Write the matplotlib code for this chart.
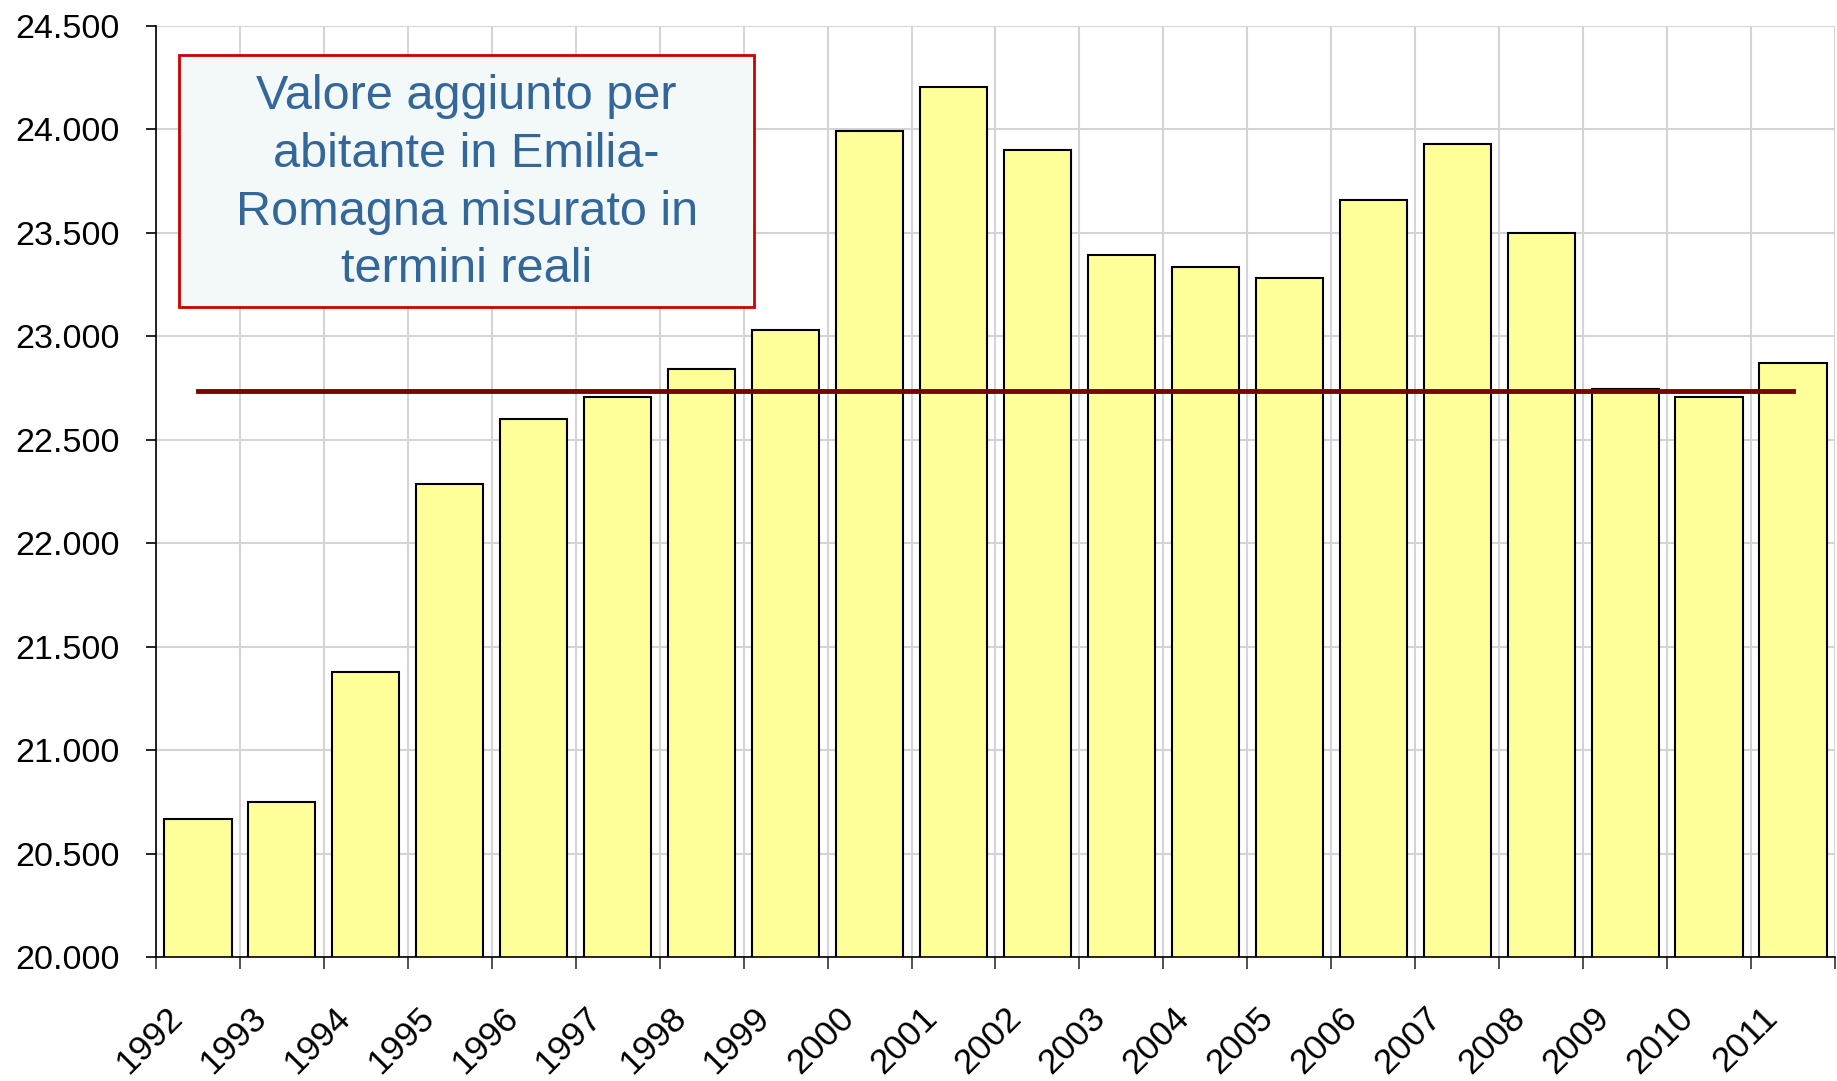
import numpy as np
import matplotlib
matplotlib.use("Agg")
import matplotlib.pyplot as plt
from matplotlib.ticker import FuncFormatter, FixedLocator
from matplotlib.transforms import ScaledTranslation

# valore aggiunto per abitante, Emilia-Romagna (valori reali)
anni = [str(a) for a in range(1992, 2012)]
valori = [20668, 20747, 21376, 22287, 22598, 22706, 22842, 23029, 23991, 24206,
          23900, 23391, 23334, 23283, 23657, 23929, 23498, 22746, 22706, 22870]
media = 22734
titolo = "Valore aggiunto per\nabitante in Emilia-\nRomagna misurato in\ntermini reali"

plt.rcParams['font.family'] = ['Liberation Sans', 'DejaVu Sans']

fig = plt.figure(figsize=(18.37, 10.81), dpi=100)
ax = fig.add_axes([0.0849, 0.1147, 0.9140, 0.8613])

x = np.arange(len(anni))
ax.bar(x, valori, width=0.8, color='#ffff99', edgecolor='black', linewidth=1.5, zorder=2)
ax.plot([x[0], x[-1]], [media, media], color='#800000', linewidth=3.5, zorder=3)

ax.set_xlim(-0.5, len(anni) - 0.5)
ax.set_ylim(20000, 24500)
ax.set_yticks(np.arange(20000, 24501, 500))
ax.yaxis.set_major_formatter(FuncFormatter(lambda v, p: f"{int(v):,}".replace(",", ".")))

ax.set_xticks(x)
ax.set_xticklabels(anni, rotation=45, ha='right', va='center', rotation_mode='anchor')
ax.xaxis.set_minor_locator(FixedLocator(np.arange(-0.5, len(anni), 1.0)))
ax.tick_params(axis='x', which='major', length=0, pad=40, labelsize=25.5)
ax.tick_params(axis='x', which='minor', length=8.6, width=1.2, color='#333333', direction='out')
ax.tick_params(axis='y', length=7, width=1.2, pad=19, labelsize=24.5, direction='out')
off = ScaledTranslation(-0.21, 0, fig.dpi_scale_trans)
for lab in ax.get_xticklabels():
    lab.set_transform(lab.get_transform() + off)

ax.grid(True, which='minor', axis='x', color='#d4d4d4', linewidth=1.5, zorder=0)
ax.grid(True, which='major', axis='y', color='#d4d4d4', linewidth=1.5, zorder=0)
ax.set_axisbelow(True)
for s in ['top', 'right']:
    ax.spines[s].set_visible(False)
ax.spines['left'].set_linewidth(1.2)
ax.spines['bottom'].set_linewidth(1.2)

box = plt.Rectangle((0.0137, 0.698), 0.3423, 0.271, transform=ax.transAxes,
                    facecolor='#f3f8f8', edgecolor='#cc0000', linewidth=2, zorder=5)
ax.add_patch(box)
ax.text(0.185, 0.831, titolo, transform=ax.transAxes, ha='center', va='center',
        fontsize=35, color='#336699', linespacing=1.36, zorder=6)

plt.savefig("out.png", dpi=100)
plt.close()
